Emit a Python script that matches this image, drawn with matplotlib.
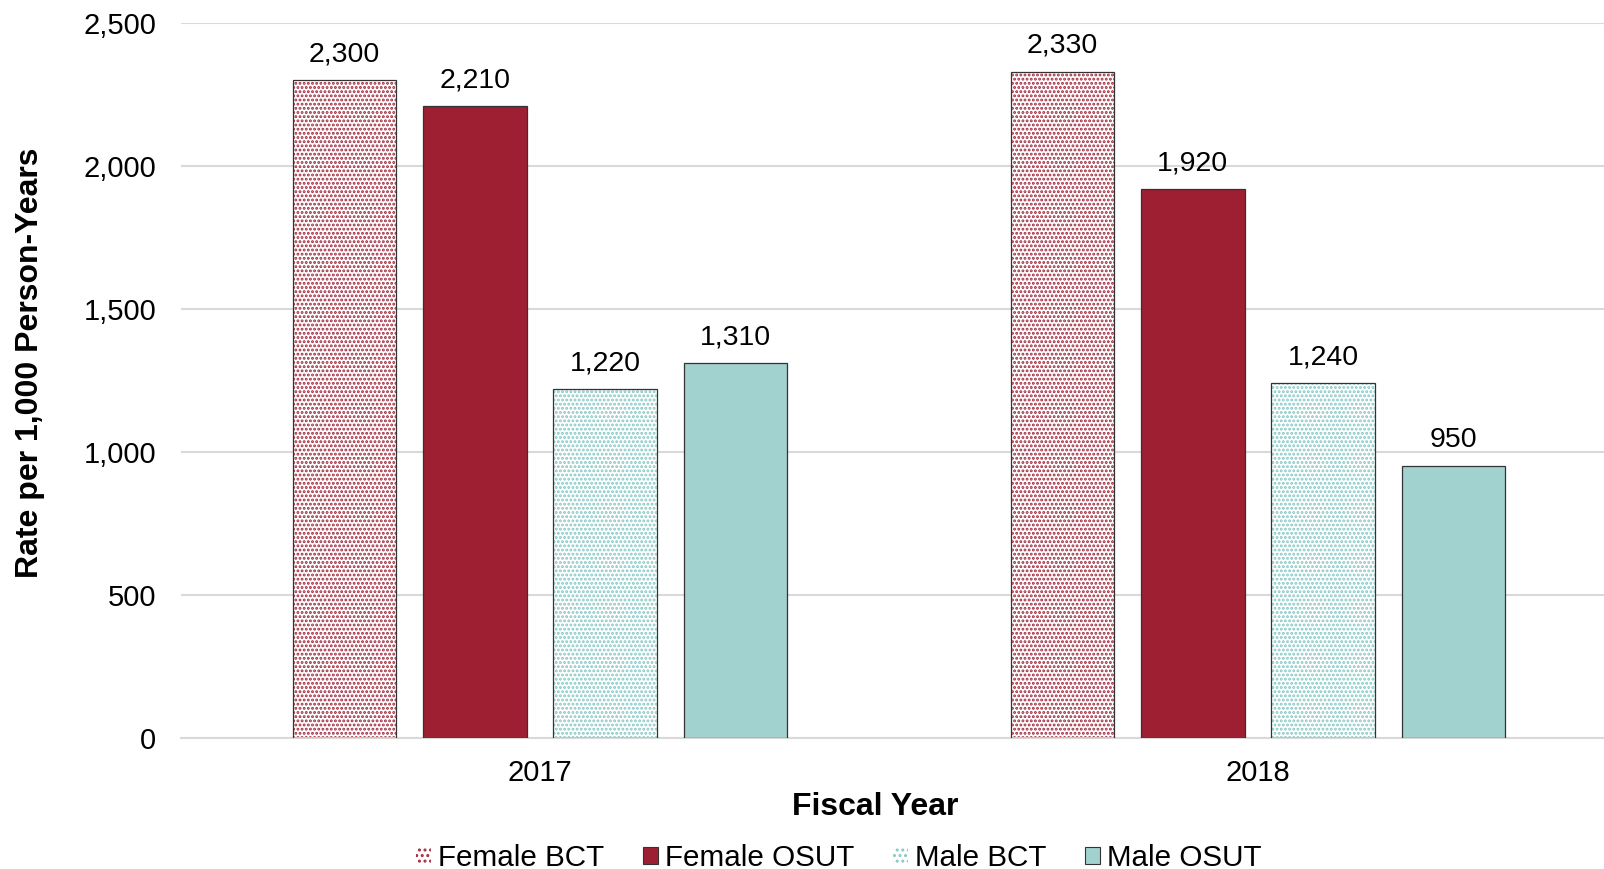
import numpy as np
import matplotlib.pyplot as plt

plt.rcParams['font.family'] = ['Liberation Sans', 'DejaVu Sans']
plt.rcParams['hatch.linewidth'] = 1.4

# ----------------------------
# Data
# ----------------------------
years = ['2017', '2018']
series = ['Female BCT', 'Female OSUT', 'Male BCT', 'Male OSUT']
female_bct = [2300, 2330]
female_osut = [2210, 1920]
male_bct = [1220, 1240]
male_osut = [1310, 950]

values = [female_bct, female_osut, male_bct, male_osut]
fills = ['white', '#9E1F32', 'white', '#A2D2D0']
hatch_colors = ['#A02A3C', None, '#86C8C4', None]

# ----------------------------
# Plot
# ----------------------------
fig = plt.figure(figsize=(16.04, 8.69), dpi=100)
ax = fig.add_axes([181 / 1604, 1 - 738 / 869, 1436 / 1604, (738 - 23) / 869])

x = np.arange(len(years))
width = 0.144
step = 0.1816
offsets = (np.arange(len(series)) - 1.5) * step

handles = []
for vals, off, fc, hc, name in zip(values, offsets, fills, hatch_colors, series):
    if hc is not None:
        # dotted fill, then outline on top
        ax.bar(x + off, vals, width, color='white', edgecolor=hc, hatch='....',
               linewidth=0, zorder=2)
        ax.bar(x + off, vals, width, facecolor='none', edgecolor='#333333',
               linewidth=0.9, zorder=3)
        proxy = plt.Rectangle((0, 0), 1, 1, facecolor='white', edgecolor=hc,
                              hatch='...', linewidth=0)
    else:
        ax.bar(x + off, vals, width, color=fc, edgecolor='#333333',
               linewidth=0.9, zorder=3)
        proxy = plt.Rectangle((0, 0), 1, 1, facecolor=fc, edgecolor='#333333',
                              linewidth=0.8)
    handles.append(proxy)
    for xi, v in zip(x + off, vals):
        ax.text(xi, v + 45, f'{v:,}', ha='center', va='bottom', fontsize=20.5)

ax.set_xlim(-0.5, 1.5)
ax.set_ylim(0, 2500)
ax.set_yticks(np.arange(0, 2501, 500))
ax.yaxis.set_major_formatter(plt.FuncFormatter(lambda v, p: f'{int(v):,}'))
ax.set_xticks(x)
ax.set_xticklabels(years)
ax.tick_params(axis='both', length=0, labelsize=21)
ax.tick_params(axis='x', pad=15)
ax.tick_params(axis='y', pad=18)
ax.grid(axis='y', color='#D9D9D9', linewidth=1.5, zorder=0)
ax.set_axisbelow(True)
for s in ['top', 'right', 'left']:
    ax.spines[s].set_visible(False)
ax.spines['bottom'].set_color('#D9D9D9')
ax.spines['bottom'].set_linewidth(1.5)

ax.set_xlabel('Fiscal Year', fontsize=23, fontweight='bold')
ax.xaxis.set_label_coords((875 - 181) / 1436, -(792 - 738) / 715)
fig.text(30 / 1604, 1 - 363 / 869, 'Rate per 1,000 Person-Years', rotation=90,
         ha='center', va='center', fontsize=23, fontweight='bold')

fig.legend(handles, series, loc='center', bbox_to_anchor=(839 / 1604, 1 - 858 / 869),
           ncol=4, frameon=False, fontsize=21.3, handlelength=0.5, handleheight=0.5,
           handletextpad=0.25, columnspacing=1.3)

fig.savefig('out.png', dpi=100)
